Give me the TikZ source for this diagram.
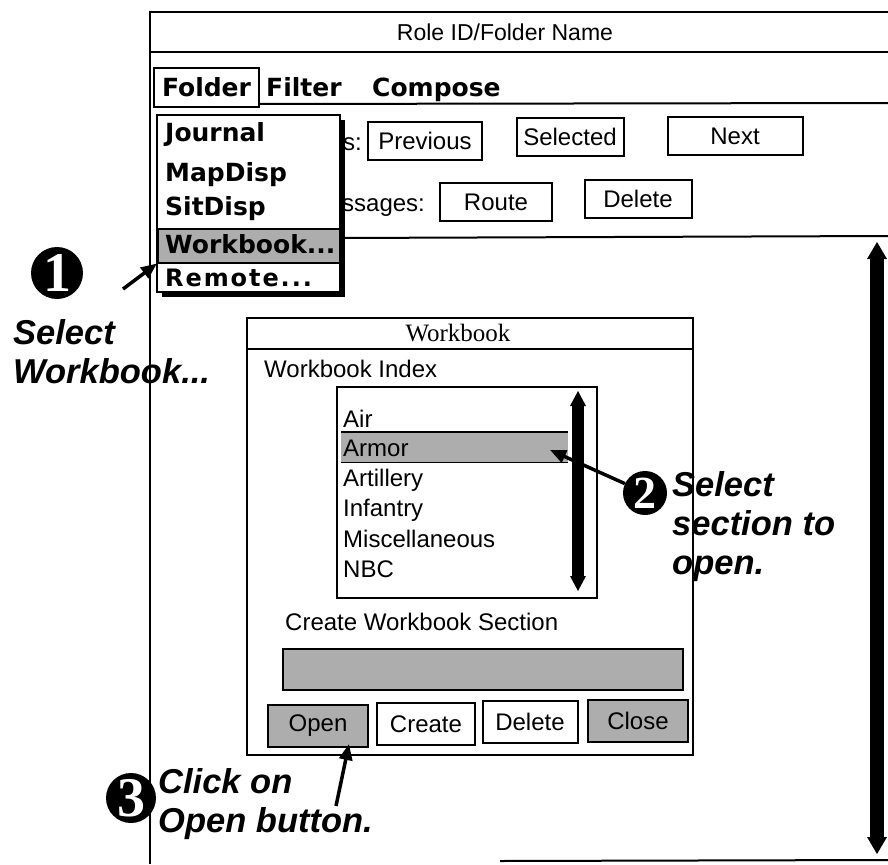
\documentclass[tikz,border=0pt]{standalone}
\usepackage{fontspec}
\setmainfont{Liberation Sans}
\newfontfamily\seriffont{Liberation Serif}
\newfontfamily\menufont{DejaVu Sans}
\usetikzlibrary{arrows.meta}
\tikzset{
  ui/.style={font=\fontsize{24}{26}\selectfont, inner sep=0pt},
  menu/.style={font=\menufont\bfseries\fontsize{25}{27}\selectfont, inner sep=0pt},
  note/.style={font=\bfseries\itshape\fontsize{34.5}{37}\selectfont, inner sep=0pt},
  btn/.style={draw, line width=2pt, inner sep=0pt, font=\fontsize{24}{26}\selectfont},
  stip/.style={fill=black!32},
  num/.style={circle, fill=black, text=white, inner sep=0pt, font=\seriffont\bfseries\fontsize{56}{56}\selectfont},
  pointer/.style={line width=3.5pt, -{Triangle[length=16pt,width=13pt]}},
  frame/.style={line width=2pt},
}
\begin{document}
\begin{tikzpicture}[x=1pt,y=-1pt]
\useasboundingbox (0,0) rectangle (888,864);
% main window
\draw[frame] (888,12) -- (150,12) -- (150,864);
\draw[frame] (150,52) -- (888,52);
\node[ui,font=\fontsize{23}{25}\selectfont] (title) at (505,32) {Role ID/Folder Name};
\node[menu, draw, line width=2pt, minimum width=105pt, minimum height=39pt] (folder) at (206.5,87.5) {Folder};
\node[menu, anchor=base west] (filter) at (266,97) {Filter};
\node[menu, anchor=base west] (compose) at (372,97) {Compose};
\draw[frame] (folder.east |- 0,104) -- (888,103);
% button rows
\node[btn, minimum width=114pt, minimum height=38pt] (prev) at (425,141) {Previous};
\node[btn, minimum width=107pt, minimum height=38pt] (sel) at (570,137) {Selected};
\node[btn, minimum width=135pt, minimum height=38pt] (next) at (735,136) {Next};
\node[ui, anchor=base west] (lbl1) at (343,150) {s:};
\node[btn, minimum width=112pt, minimum height=38pt] (route) at (496,202) {Route};
\node[btn, minimum width=107pt, minimum height=38pt] (del1) at (638,199) {Delete};
\node[ui, anchor=base west] (lbl2) at (342,211) {ssages:};
\draw[frame] (340,238) -- (888,236);
% big scrollbar
\fill (870,258) rectangle (884,838);
\fill (877,242) -- (867,259) -- (887,259) -- cycle;
\fill (877,854) -- (867,837) -- (887,837) -- cycle;
\draw[frame] (500,861) -- (888,860);
% dropdown menu
\fill (162,120) rectangle (345,297);
\draw[fill=white, line width=1.5pt] (157,115) rectangle (340,292);
\node[stip, draw, line width=1.5pt, minimum width=182pt, minimum height=34pt, anchor=north west, inner sep=0pt] (wbitem) at (157,228) {};
\node[menu, anchor=base west] (journal) at (165,141) {Journal};
\node[menu, anchor=base west] (mapdisp) at (165,181) {MapDisp};
\node[menu, anchor=base west] (sitdisp) at (165,215) {SitDisp};
\node[menu, anchor=base west] (wbtext) at (165,253) {Workbook...};
\node[menu, anchor=base west, font=\menufont\bfseries\fontsize{24}{26}\selectfont\addfontfeature{LetterSpace=8}] (remote) at (165,286) {Remote...};
% annotation 1
\node[num, minimum size=52pt] (n1) at (57,273) {1};
\coordinate (t1) at (123,289);
\draw[pointer] (t1) -- (wbitem.south west);
\node[note, anchor=base west] (s1a) at (13,344) {Select};
\node[note, anchor=base west] (s1b) at (13,383) {Workbook...};
% dialog
\draw[fill=white, line width=1.5pt] (247,318) rectangle (693,755);
\draw[line width=1.5pt] (247,349) -- (693,349);
\node[font=\seriffont\fontsize{25}{25}\selectfont, inner sep=0pt] (dtitle) at (458,333) {Workbook};
\node[ui, anchor=base west] (index) at (264,377) {Workbook Index};
\draw[line width=2pt] (337,387) rectangle (597,598);
\node[stip, minimum width=227pt, minimum height=30pt, inner sep=0pt, anchor=north west] (armorhl) at (341,432) {};
\draw[line width=1.5pt] (armorhl.north west) -- (armorhl.north east) (armorhl.south west) -- (armorhl.south east);
\node[ui, anchor=base west] (air) at (343,427) {Air};
\node[ui, anchor=base west] (armor) at (343,456) {Armor};
\node[ui, anchor=base west] (art) at (343,486) {Artillery};
\node[ui, anchor=base west] (inf) at (343,516) {Infantry};
\node[ui, anchor=base west] (misc) at (343,547) {Miscellaneous};
\node[ui, anchor=base west] (nbc) at (343,577) {NBC};
\fill (572,405) rectangle (584,577);
\fill (578,391) -- (570,406) -- (586,406) -- cycle;
\fill (578,591) -- (570,576) -- (586,576) -- cycle;
\node[ui, anchor=base west] (cws) at (285,630) {Create Workbook Section};
\node[stip, draw, line width=2pt, minimum width=400pt, minimum height=41pt, inner sep=0pt, anchor=north west] (field) at (282,648) {};
\node[btn, stip, minimum width=100pt, minimum height=42pt] (open) at (318,726) {Open};
\node[btn, minimum width=98pt, minimum height=42pt] (create) at (426,724) {Create};
\node[btn, minimum width=95pt, minimum height=42pt] (del2) at (530,722) {Delete};
\node[btn, stip, minimum width=100pt, minimum height=42pt] (close) at (638,721) {Close};
% annotation 2
\node[num, minimum size=44pt, font=\seriffont\bfseries\fontsize{46}{46}\selectfont] (n2) at (645,493) {2};
\coordinate (h2) at (550,450);
\draw[pointer] (n2.155) -- (h2);
\node[note, anchor=base west] (s2a) at (672,496) {Select};
\node[note, anchor=base west] (s2b) at (672,535) {section to};
\node[note, anchor=base west] (s2c) at (672,574) {open.};
% annotation 3
\node[num, minimum size=50pt] (n3) at (131,798) {3};
\coordinate (t3) at (336,806);
\coordinate (h3) at (349,744);
\draw[pointer] (t3) -- (h3);
\node[note, anchor=base west] (s3a) at (158,793) {Click on};
\node[note, anchor=base west] (s3b) at (158,832) {Open button.};
\end{tikzpicture}
\end{document}
